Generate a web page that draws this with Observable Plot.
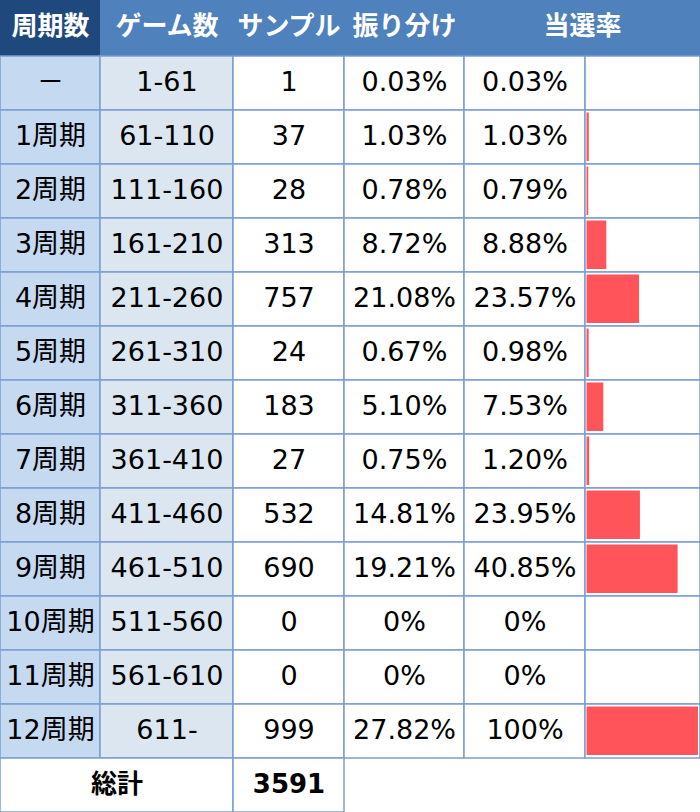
<!DOCTYPE html>
<html><head><meta charset="utf-8">
<script src="https://cdn.jsdelivr.net/npm/d3@7"></script>
<script src="https://cdn.jsdelivr.net/npm/@observablehq/plot@0.6"></script>
<style>html,body{margin:0;padding:0;background:#fff}#chart svg{display:block}</style>
</head><body><div id="chart"></div>
<script>
// ---- data ----
const headers = ["周期数", "ゲーム数", "サンプル", "振り分け", "当選率"];
const cycles = ["－", "1周期", "2周期", "3周期", "4周期", "5周期", "6周期", "7周期", "8周期", "9周期", "10周期", "11周期", "12周期"];
const games = ["1-61", "61-110", "111-160", "161-210", "211-260", "261-310", "311-360", "361-410", "411-460", "461-510", "511-560", "561-610", "611-"];
const samples = [1, 37, 28, 313, 757, 24, 183, 27, 532, 690, 0, 0, 999];
const shares = [0.03, 1.03, 0.78, 8.72, 21.08, 0.67, 5.10, 0.75, 14.81, 19.21, 0, 0, 27.82];
const rates = [0.03, 1.03, 0.79, 8.88, 23.57, 0.98, 7.53, 1.20, 23.95, 40.85, 0, 0, 100];
const totalLabel = "総計";
const barMax = 50; // data-bar scale maximum (%), longer values are clipped

// ---- layout ----
const W = 700, H = 812, headH = 56, rowH = 54;
const colEdges = [0, 100, 233, 344, 464, 585, 700];
const headerSpans = [[0, 1], [1, 2], [2, 3], [3, 4], [4, 6]];
const gridColor = "#7b9dd1";
const font = '"DejaVu Sans","Noto Sans CJK JP",sans-serif';
const fmtPct = v => v === 0 ? "0%" : v === 100 ? "100%" : v.toFixed(2) + "%";
const rowTop = i => headH + i * rowH;
const n = cycles.length;

const headerCells = [
  {x1: colEdges[0], x2: colEdges[1], y1: 0, y2: headH, fill: "#1f497d"},
  {x1: colEdges[1], x2: colEdges[6], y1: 0, y2: headH, fill: "#4f81bd"}
];
const headerText = headers.map((h, k) => ({
  x: (colEdges[headerSpans[k][0]] + colEdges[headerSpans[k][1]]) / 2,
  y: headH / 2, text: h
}));

const bodyCells = [];
const bodyText = [];
for (let i = 0; i < n; i++) {
  for (let j = 0; j < 6; j++) {
    bodyCells.push({x1: colEdges[j], x2: colEdges[j + 1], y1: rowTop(i), y2: rowTop(i) + rowH,
      fill: j === 0 ? "#c5d9f1" : j === 1 ? "#dce6f1" : "#ffffff"});
  }
  const vals = [cycles[i], games[i], String(samples[i]), fmtPct(shares[i]), fmtPct(rates[i])];
  vals.forEach((t, j) => bodyText.push({x: (colEdges[j] + colEdges[j + 1]) / 2, y: rowTop(i) + rowH / 2, text: t}));
}
const totTop = rowTop(n);
const totalCells = [
  {x1: colEdges[0], x2: colEdges[2], y1: totTop, y2: totTop + rowH, fill: "#ffffff"},
  {x1: colEdges[2], x2: colEdges[3], y1: totTop, y2: totTop + rowH, fill: "#ffffff"}
];
const totalText = [
  {x: (colEdges[0] + colEdges[2]) / 2, y: totTop + rowH / 2, text: totalLabel},
  {x: (colEdges[2] + colEdges[3]) / 2, y: totTop + rowH / 2, text: String(d3.sum(samples))}
];

const barScale = d3.scaleLinear([0, barMax], [colEdges[5] + 1.5, colEdges[6] - 2]).clamp(true);
const bars = rates.map((r, i) => ({x1: barScale(0), x2: barScale(r), y1: rowTop(i), y2: rowTop(i) + rowH, rate: r}));

const chart = Plot.plot({
  width: W, height: H, margin: 0,
  x: {type: "linear", domain: [0, W], range: [0, W], axis: null},
  y: {type: "linear", domain: [0, H], range: [0, H], axis: null},
  style: {fontFamily: font, background: "#fff"},
  marks: [
    Plot.rect(headerCells, {x1: "x1", x2: "x2", y1: "y1", y2: "y2", fill: d => d.fill}),
    Plot.rect(bodyCells, {x1: "x1", x2: "x2", y1: "y1", y2: "y2", fill: d => d.fill, stroke: gridColor, strokeWidth: 1.5}),
    Plot.rect(totalCells, {x1: "x1", x2: "x2", y1: "y1", y2: "y2", fill: d => d.fill, stroke: gridColor, strokeWidth: 1.5}),
    Plot.rect(bars.filter(d => d.rate > 0), {x1: "x1", x2: "x2", y1: "y1", y2: "y2", insetTop: 2.5, insetBottom: 3, fill: "#ff555a"}),
    Plot.text(headerText, {x: "x", y: "y", text: "text", fill: "#fff", fontSize: 26, fontWeight: "bold", dy: -2, textAnchor: "middle", lineAnchor: "middle", fontFamily: font}),
    Plot.text(bodyText, {x: "x", y: "y", text: "text", fill: "#000", fontSize: 27, dy: -1, textAnchor: "middle", lineAnchor: "middle", fontFamily: font}),
    Plot.text(totalText, {x: "x", y: "y", text: "text", fill: "#000", fontSize: 26, fontWeight: "bold", dy: -1, textAnchor: "middle", lineAnchor: "middle", fontFamily: font})
  ]
});
chart.setAttribute("font-family", font);
document.getElementById("chart").appendChild(chart);
</script>
</body></html>
